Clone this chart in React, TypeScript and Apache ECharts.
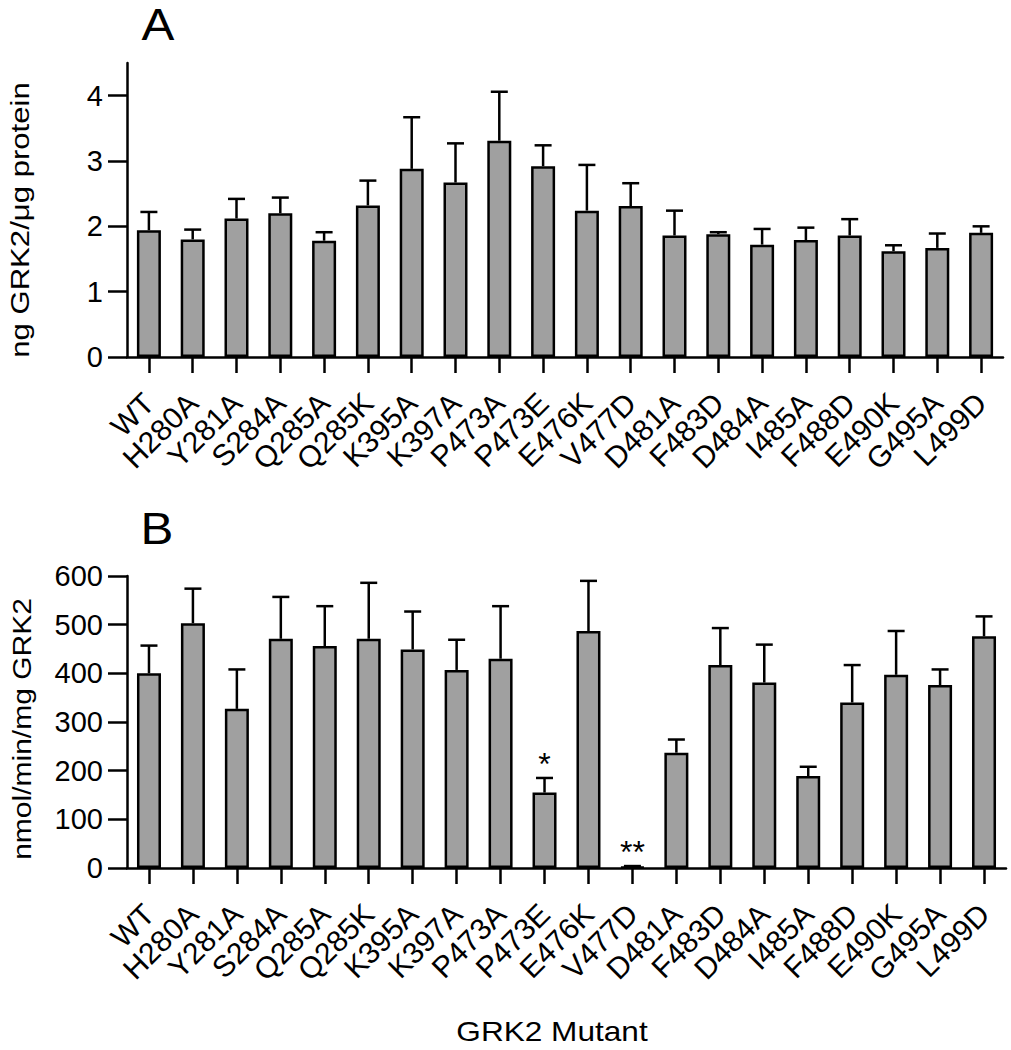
import React, { useEffect, useRef } from "react";
import * as echarts from "echarts";

const categories = ["WT","H280A","Y281A","S284A","Q285A","Q285K","K395A","K397A","P473A","P473E","E476K","V477D","D481A","F483D","D484A","I485A","F488D","E490K","G495A","L499D"];

// Panel A: ng GRK2/µg protein (mean and upper error end)
const meanA = [1.94,1.80,2.12,2.20,1.78,2.32,2.88,2.67,3.31,2.92,2.24,2.31,1.86,1.88,1.72,1.79,1.86,1.62,1.67,1.90];
const upperA = [2.22,1.95,2.42,2.44,1.91,2.70,3.67,3.27,4.06,3.24,2.94,2.66,2.24,1.91,1.96,1.98,2.11,1.71,1.89,2.00];

// Panel B: nmol/min/mg GRK2
const meanB = [400,503,327,471,456,471,449,407,430,155,487,2,237,417,381,189,340,397,376,476];
const upperB = [457,574,408,557,538,586,527,469,538,185,590,4,264,493,459,208,417,487,408,517];
const sigB = ["","","","","","","","","","*","","**","","","","","","","",""];

const ticksA = [0,1,2,3,4];
const ticksB = [0,100,200,300,400,500,600];

const yNameA = "ng GRK2/μg protein";
const yNameB = "nmol/min/mg GRK2";
const xNameB = "GRK2 Mutant";

const FONT = 'Arial, "Liberation Sans", sans-serif';

export default function App() {
  const ref = useRef<HTMLDivElement>(null);
  useEffect(() => {
    if (!ref.current) return;
    const chart = echarts.init(ref.current, undefined, { renderer: "svg" });

    const errSeries = (idx: number, mean: number[], upper: number[], sig?: string[]) => ({
      type: "custom",
      xAxisIndex: idx,
      yAxisIndex: idx,
      z: 3,
      data: mean.map((m, i) => [i, m, upper[i]]),
      renderItem: (params: any, api: any) => {
        const i = api.value(0);
        const b = api.coord([i, api.value(1)]);
        const t = api.coord([i, api.value(2)]);
        const hw = 8.5;
        const children: any[] = [
          { type: "line", shape: { x1: b[0], y1: b[1], x2: b[0], y2: t[1] }, style: { stroke: "#000", lineWidth: 2.5 } },
          { type: "line", shape: { x1: b[0] - hw, y1: t[1], x2: b[0] + hw, y2: t[1] }, style: { stroke: "#000", lineWidth: 2.5 } },
        ];
        if (sig && sig[params.dataIndex]) {
          children.push({
            type: "text",
            style: { text: sig[params.dataIndex], x: b[0], y: t[1] + 2, textAlign: "center", textVerticalAlign: "bottom", fontSize: 32, fontFamily: FONT, fill: "#000" },
          });
        }
        return { type: "group", children };
      },
    });

    const xAxis = (idx: number) => ({
      type: "category",
      gridIndex: idx,
      data: categories,
      boundaryGap: true,
      axisLine: { lineStyle: { color: "#000", width: 2.5 } },
      axisTick: { show: true, alignWithLabel: true, inside: false, length: 16, lineStyle: { color: "#000", width: 2.5 } },
      axisLabel: { rotate: 45, margin: 41, fontSize: 30, color: "#000", fontFamily: FONT, interval: 0 },
    });

    const yAxis = (idx: number, max: number, interval: number, ticks: number[]) => ({
      type: "value",
      gridIndex: idx,
      min: 0,
      max,
      interval,
      splitLine: { show: false },
      axisLine: { show: true, lineStyle: { color: "#000", width: 2.5 } },
      axisTick: { show: true, length: 19, customValues: ticks, lineStyle: { color: "#000", width: 2.5 } },
      axisLabel: { customValues: ticks, fontSize: 29, color: "#000", fontFamily: FONT, margin: 24 },
    });

    const txt = (text: string, x: number, y: number, size: number, sx: number, rot = 0) => ({
      type: "text",
      x,
      y,
      rotation: rot,
      scaleX: sx,
      style: { text, fontSize: size, fontFamily: FONT, fill: "#000", textAlign: "center", textVerticalAlign: "middle" },
    });

    const option: any = {
      animation: false,
      grid: [
        { left: 127, right: 8, top: 63, bottom: 693 },
        { left: 127, right: 5, top: 576, bottom: 182 },
      ],
      xAxis: [xAxis(0), xAxis(1)],
      yAxis: [yAxis(0, 4.5, 1, ticksA), yAxis(1, 600, 100, ticksB)],
      graphic: [
        txt("A", 158, 25, 44, 1.12),
        txt("B", 157, 529, 44, 1.12),
        txt(yNameA, 20, 220, 25.5, 1.22, Math.PI / 2),
        txt(yNameB, 22, 729, 25, 1.2, Math.PI / 2),
        txt(xNameB, 552, 1031, 27, 1.17),
      ],
      series: [
        {
          type: "bar",
          xAxisIndex: 0,
          yAxisIndex: 0,
          data: meanA,
          barWidth: 24,
          z: 2,
          itemStyle: { color: "#a0a0a0", borderColor: "#000", borderWidth: 2.5 },
        },
        errSeries(0, meanA, upperA),
        {
          type: "bar",
          xAxisIndex: 1,
          yAxisIndex: 1,
          data: meanB,
          barWidth: 24,
          z: 2,
          itemStyle: { color: "#a0a0a0", borderColor: "#000", borderWidth: 2.5 },
        },
        errSeries(1, meanB, upperB, sigB),
      ],
    };
    chart.setOption(option);
    return () => chart.dispose();
  }, []);
  return <div ref={ref} style={{ position: "absolute", left: 0, top: 0, width: 1011, height: 1050, background: "#fff" }} />;
}
